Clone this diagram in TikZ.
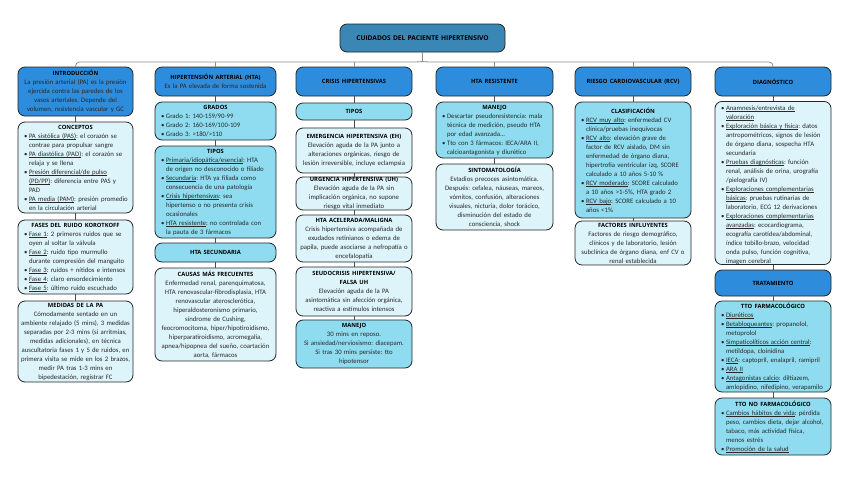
\documentclass[tikz,border=0pt]{standalone}
\usepackage{fontspec}
\setmainfont{Carlito}
\newfontfamily\hdfont{Open Sans}
\definecolor{ctitle}{RGB}{58,134,180}
\definecolor{cbright}{RGB}{45,140,220}
\definecolor{cmed}{RGB}{143,220,240}
\definecolor{clight}{RGB}{221,244,250}
\definecolor{cbody}{RGB}{40,40,40}
\tikzset{
  bx/.style={draw=black!85, line width=0.8pt, rounded corners=7pt, inner xsep=2pt, inner ysep=0pt, text=cbody, font=\fontsize{6.75}{9}\selectfont},
  bright/.style={bx, fill=cbright},
  med/.style={bx, fill=cmed},
  light/.style={bx, fill=clight},
  titlebox/.style={bx, fill=ctitle},
  conn/.style={draw=black!70, line width=0.6pt},
  bus/.style={draw=black!45, line width=0.8pt},
}
\frenchspacing
\newcommand\hd[1]{{\hdfont\bfseries\fontsize{5.8}{8}\selectfont\color{black}#1}}
\newcommand\itm[1]{\par\noindent\hangindent=9pt\hangafter=1\hbox to 9pt{\hspace{4pt}\textbullet\hss}#1}
\newcommand\nl{\hfil\break}
\newcommand\ul[1]{\setbox0\hbox{#1}\leavevmode\rlap{\rule[-0.9pt]{\wd0}{0.35pt}}\box0}
\newcommand\mybox[7]{%
  \pgfmathsetmacro\bw{#5-#3}\pgfmathsetmacro\bh{#6-#4}\pgfmathsetmacro\tw{#5-#3-4}%
  \pgfmathsetmacro\cx{(#3+#5)/2}\pgfmathsetmacro\cy{(#4+#6)/2}%
  \node[#2, minimum width=\bw pt, minimum height=\bh pt, text width=\tw pt] (#1) at (\cx,\cy) {\frenchspacing#7\par};}
\begin{document}
\begin{tikzpicture}[x=1pt,y=-1pt]
\useasboundingbox[fill=white] (0,0) rectangle (848,477);
% title
\mybox{title}{titlebox,align=center}{340}{24}{505}{52}{{\hdfont\bfseries\fontsize{6.6}{8}\selectfont\color{black}CUIDADOS DEL PACIENTE HIPERTENSIVO}}
% column 1
\mybox{intro}{bright,align=center}{18}{67}{133}{116}{\hd{INTRODUCCIÓN}\\La presión arterial (PA) es la presión\\ejercida contra las paredes de los\\vasos arteriales. Depende del\\volumen, resistencia vascular y GC}
\mybox{conc}{light,align=left}{18}{122}{133}{213}{\centerline{\hd{CONCEPTOS}}%
\itm{\ul{PA sistólica (PAS)}: el corazón se\nl contrae para propulsar sangre}%
\itm{\ul{PA diastólica (PAD)}: el corazón se\nl relaja y se llena}%
\itm{\ul{Presión diferencial/de pulso}\nl \ul{(PD/PP)}: diferencia entre PAS y\nl PAD}%
\itm{\ul{PA media (PAM)}: presión promedio\nl en la circulación arterial}}
\mybox{fases}{light,align=left}{18}{220}{133}{294}{\centerline{\hd{FASES DEL RUIDO KOROTKOFF}}%
\itm{\ul{Fase 1}: 2 primeros ruidos que se\nl oyen al soltar la válvula}%
\itm{\ul{Fase 2}: ruido tipo murmullo\nl durante compresión del manguito}%
\itm{\ul{Fase 3}: ruidos + nítidos e intensos}%
\itm{\ul{Fase 4}: claro ensordecimiento}%
\itm{\ul{Fase 5}: último ruido escuchado}}
\mybox{medidas}{light,align=center}{18}{301}{133}{382}{\hd{MEDIDAS DE LA PA}\\Cómodamente sentado en un\\ambiente relajado (5 mins), 3 medidas\\separadas por 2-3 mins (si arritmias,\\medidas adicionales), en técnica\\auscultatoria fases 1 y 5 de ruidos, en\\primera visita se mide en los 2 brazos,\\medir PA tras 1-3 mins en\\bipedestación, registrar FC}
% column 2
\mybox{hta}{bright,align=center}{155}{67}{276}{96}{\hd{HIPERTENSIÓN ARTERIAL (HTA)}\\Es la PA elevada de forma sostenida}
\mybox{grados}{med,align=left}{155}{102}{276}{140}{\centerline{\hd{GRADOS}}%
\itm{Grado 1: 140-159/90-99}\itm{Grado 2: 160-169/100-109}\itm{Grado 3: >180/>110}}
\mybox{tipos}{med,align=left}{155}{146}{276}{238}{\centerline{\hd{TIPOS}}%
\itm{\ul{Primaria/idiopática/esencial}: HTA\nl de origen no desconocido o filiado}%
\itm{\ul{Secundaria}: HTA ya filiada como\nl consecuencia de una patología}%
\itm{\ul{Crisis hipertensivas}: sea\nl hipertenso o no presenta crisis\nl ocasionales}%
\itm{\ul{HTA resistente}: no controlada con\nl la pauta de 3 fármacos}}
\mybox{htasec}{med,align=center}{155}{243}{276}{262}{\hd{HTA SECUNDARIA}}
\mybox{causas}{light,align=center}{155}{268}{276}{361}{\hd{CAUSAS MÁS FRECUENTES}\\Enfermedad renal, parenquimatosa,\\HTA renovascular-fibrodisplasia, HTA\\renovascular aterosclerótica,\\hiperaldosteronismo primario,\\síndrome de Cushing,\\feocromocitoma, hiper/hipotiroidismo,\\hiperparatiroidismo, acromegalia,\\apnea/hipopnea del sueño, coartación\\aorta, fármacos}
% column 3
\mybox{crisis}{bright,align=center}{296}{67}{412}{96}{\hd{CRISIS HIPERTENSIVAS}}
\mybox{tipos3}{med,align=center}{296}{103}{412}{120}{\hd{TIPOS}}
\mybox{eh}{light,align=center}{296}{128}{412}{173}{\hd{EMERGENCIA HIPERTENSIVA (EH)}\\Elevación aguda de la PA junto a\\alteraciones orgánicas, riesgo de\\lesión irreversible, incluye eclampsia}
\mybox{uh}{light,align=center}{296}{177}{412}{210}{\hd{URGENCIA HIPERTENSIVA (UH)}\\Elevación aguda de la PA sin\\implicación orgánica, no supone\\riesgo vital inmediato}
\mybox{acel}{light,align=center}{296}{215}{412}{262}{\hd{HTA ACELERADA/MALIGNA}\\Crisis hipertensiva acompañada de\\exudados retinianos o edema de\\papila, puede asociarse a nefropatía o\\encefalopatía}
\mybox{seudo}{light,align=center}{296}{267}{412}{316}{\hd{SEUDOCRISIS HIPERTENSIVA/}\\\hd{FALSA UH}\\Elevación aguda de la PA\\asintomática sin afección orgánica,\\reactiva a estímulos intensos}
\mybox{manejo3}{med,align=center}{296}{320}{412}{368}{\hd{MANEJO}\\30 mins en reposo.\\Si ansiedad/nerviosismo: diacepam.\\Si tras 30 mins persiste: tto\\hipotensor}
% column 4
\mybox{htares}{bright,align=center}{436}{67}{553}{96}{\hd{HTA RESISTENTE}}
\mybox{manejo4}{med,align=left}{436}{102}{553}{158}{\centerline{\hd{MANEJO}}%
\itm{Descartar pseudoresistencia: mala\nl técnica de medición, pseudo HTA\nl por edad avanzada...}%
\itm{Tto con 3 fármacos: IECA/ARA II,\nl calcioantagonista y diurético}}
\mybox{sint}{light,align=center}{436}{164}{553}{230}{\hd{SINTOMATOLOGÍA}\\Estadios precoces asintomática.\\Después: cefalea, náuseas, mareos,\\vómitos, confusión, alteraciones\\visuales, nicturia, dolor torácico,\\disminución del estado de\\consciencia, shock}
% column 5
\mybox{rcv}{bright,align=center}{575}{67}{691}{96}{\hd{RIESGO CARDIOVASCULAR (RCV)}}
\mybox{clas}{med,align=left}{575}{102}{691}{218}{\centerline{\hd{CLASIFICACIÓN}}%
\itm{\ul{RCV muy alto}: enfermedad CV\nl clínica/pruebas inequívocas}%
\itm{\ul{RCV alto}: elevación grave de\nl factor de RCV aislado, DM sin\nl enfermedad de órgano diana,\nl hipertrofia ventricular izq, SCORE\nl calculado a 10 años 5-10 \%}%
\itm{\ul{RCV moderado}: SCORE calculado\nl a 10 años >1-5\%, HTA grado 2}%
\itm{\ul{RCV bajo}: SCORE calculado a 10\nl años <1\%}}
\mybox{fact}{light,align=center}{575}{221}{691}{265}{\hd{FACTORES INFLUYENTES}\\Factores de riesgo demográfico,\\clínicos y de laboratorio, lesión\\subclínica de órgano diana, enf CV o\\renal establecida}
% column 6
\mybox{diag}{bright,align=center}{715}{67}{831}{96}{\hd{DIAGNÓSTICO}}
\mybox{diaglist}{light,align=left}{715}{102}{831}{264}{%
\itm{\ul{Anamnesis/entrevista de}\nl \ul{valoración}}%
\itm{\ul{Exploración básica y física}: datos\nl antropométricos, signos de lesión\nl de órgano diana, sospecha HTA\nl secundaria}%
\itm{\ul{Pruebas diagnósticas}: función\nl renal, análisis de orina, urografía\nl /pielografía IV)}%
\itm{\ul{Exploraciones complementarias}\nl \ul{básicas}: pruebas rutinarias de\nl laboratorio, ECG 12 derivaciones}%
\itm{\ul{Exploraciones complementarias}\nl \ul{avanzadas}: ecocardiograma,\nl ecografía carotídea/abdominal,\nl índice tobillo-brazo, velocidad\nl onda pulso, función cognitiva,\nl imagen cerebral}}
\mybox{trat}{bright,align=center}{715}{270}{831}{296}{\hd{TRATAMIENTO}}
\mybox{farma}{med,align=left}{715}{301}{831}{392}{\centerline{\hd{TTO FARMACOLÓGICO}}%
\itm{\ul{Diuréticos}}%
\itm{\ul{Betabloqueantes}: propanolol,\nl metoprolol}%
\itm{\ul{Simpaticolíticos acción central}:\nl metildopa, cloinidina}%
\itm{\ul{IECA}: captopril, enalapril, ramipril}%
\itm{\ul{ARA II}}%
\itm{\ul{Antagonistas calcio}: diltiazem,\nl amlopidino, nifedipino, verapamilo}}
\mybox{nofarma}{med,align=left}{715}{398}{831}{455}{\centerline{\hd{TTO NO FARMACOLÓGICO}}%
\itm{\ul{Cambios hábitos de vida}: pérdida\nl peso, cambios dieta, dejar alcohol,\nl tabaco, más actividad física,\nl menos estrés}%
\itm{\ul{Promoción de la salud}}}
% bus
\coordinate (busy) at (0,62);
\coordinate (tip) at (422.5,58);
\draw[bus] (title.south) -- (tip);
\draw[bus, rounded corners=4pt] (tip) .. controls (422.5,61.5) .. (418,62) -- (intro.north |- busy) -- (intro.north);
\draw[bus, rounded corners=4pt] (tip) .. controls (422.5,61.5) .. (427,62) -- (diag.north |- busy) -- (diag.north);
\foreach \n in {hta,crisis,htares,rcv} \draw[bus] (\n.north |- busy) -- (\n.north);
% column connectors
\draw[conn] (intro) -- (conc);
\draw[conn] (conc) -- (fases);
\draw[conn] (fases) -- (medidas);
\draw[conn] (hta) -- (grados);
\draw[conn] (grados) -- (tipos);
\draw[conn] (tipos) -- (htasec);
\draw[conn] (htasec) -- (causas);
\draw[conn] (crisis) -- (tipos3);
\draw[conn] (tipos3) -- (eh);
\draw[conn] (eh) -- (uh);
\draw[conn] (uh) -- (acel);
\draw[conn] (acel) -- (seudo);
\draw[conn] (seudo) -- (manejo3);
\draw[conn] (htares) -- (manejo4);
\draw[conn] (manejo4) -- (sint);
\draw[conn] (rcv) -- (clas);
\draw[conn] (clas) -- (fact);
\draw[conn] (diag) -- (diaglist);
\draw[conn] (diaglist) -- (trat);
\draw[conn] (trat) -- (farma);
\draw[conn] (farma) -- (nofarma);
\end{tikzpicture}
\end{document}
